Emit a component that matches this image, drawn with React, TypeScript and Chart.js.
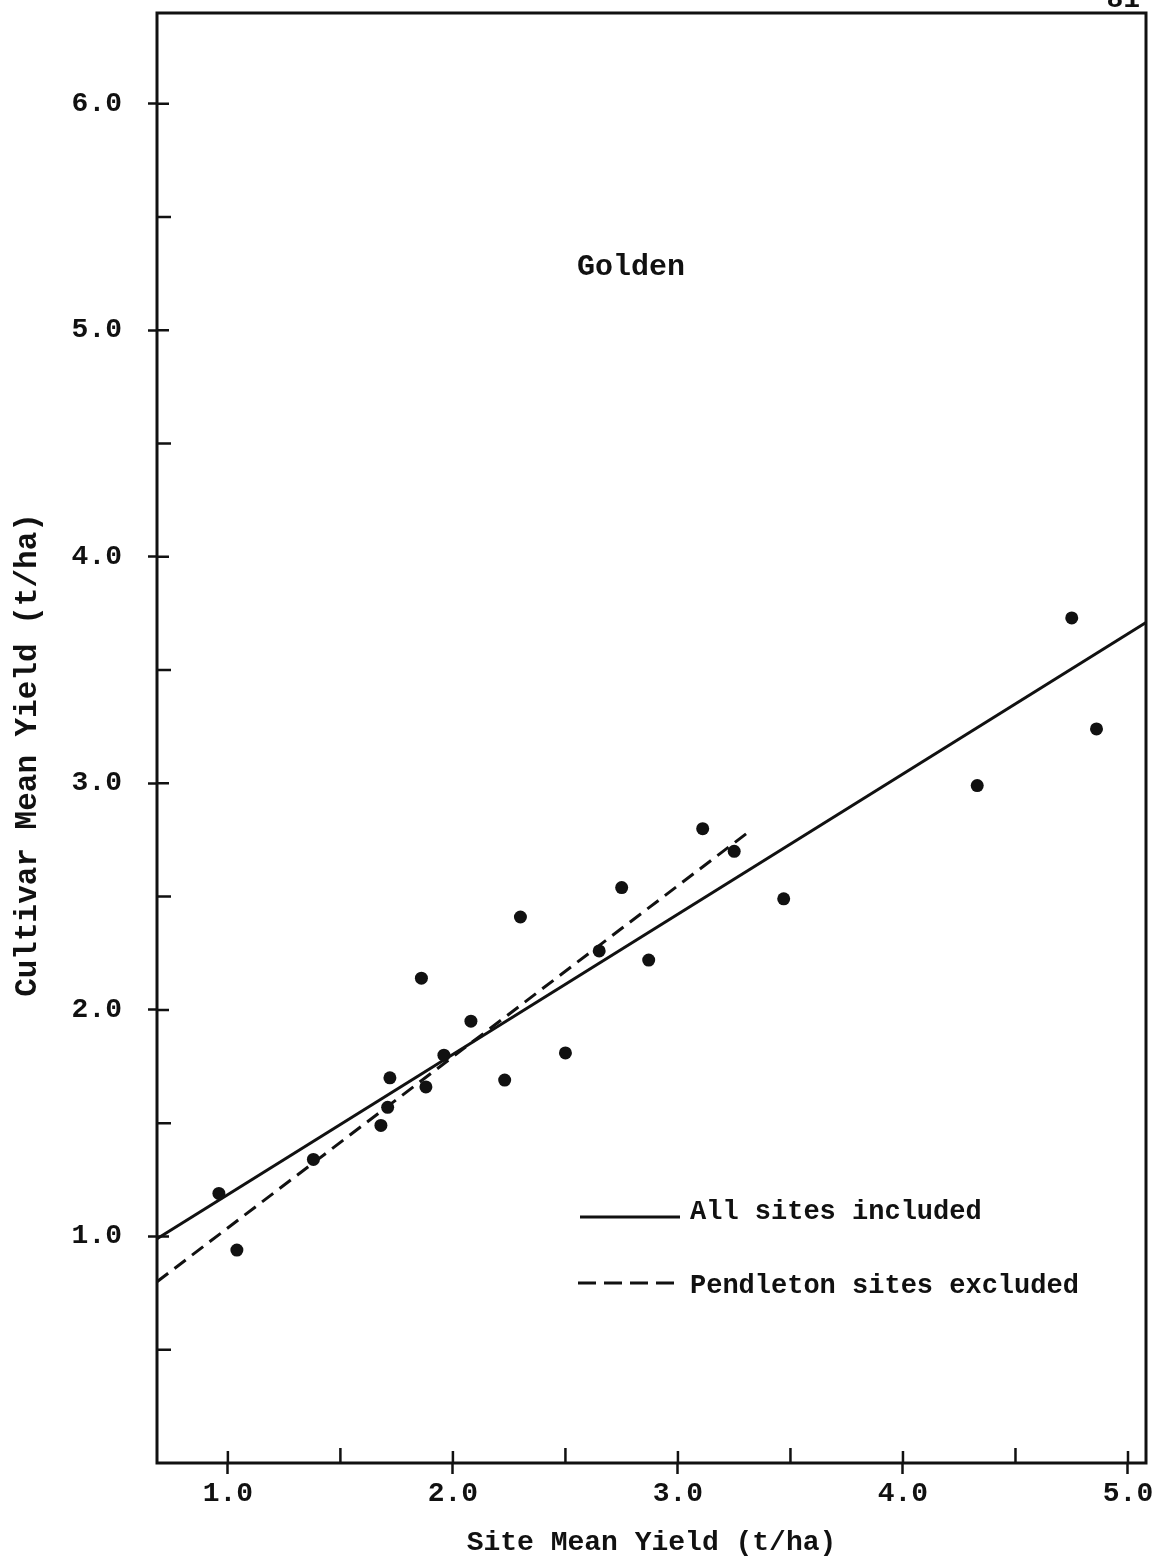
import React, { useEffect, useRef } from "react";
import { Chart, registerables } from "chart.js";

Chart.register(...registerables);

// ---- data ----
const siteMeanYield = [
  0.96, 1.04, 1.38, 1.68, 1.71, 1.72, 1.86, 1.88, 1.96, 2.08, 2.23,
  2.30, 2.50, 2.65, 2.75, 2.87, 3.11, 3.25, 3.47, 4.33, 4.75, 4.86,
];
const cultivarMeanYield = [
  1.19, 0.94, 1.34, 1.49, 1.57, 1.70, 2.14, 1.66, 1.80, 1.95, 1.69,
  2.41, 1.81, 2.26, 2.54, 2.22, 2.80, 2.70, 2.49, 2.99, 3.73, 3.24,
];

// regression lines (endpoints as drawn)
const allSitesX = [0.685, 5.08];
const allSitesY = [0.99, 3.71];
const pendletonX = [0.685, 3.32];
const pendletonY = [0.8, 2.79];

const seriesNames = ["All sites included", "Pendleton sites excluded"];
const panelTitle = "Golden";
const xTitle = "Site Mean Yield (t/ha)";
const yTitle = "Cultivar Mean Yield (t/ha)";
const pageNumber = "81";

const xMin = 0.685;
const xMax = 5.08;
const yMin = 0;
const yMax = 6.4;
const tickStep = 0.5;

const FONT = '"Liberation Mono", "DejaVu Sans Mono", monospace';
const INK = "#111111";

const isMajor = (v: number) => Math.abs(v - Math.round(v)) < 1e-9 && v >= 1;
const fmt = (v: number) => (isMajor(v) ? v.toFixed(1) : "");

const frameAndTicks = {
  id: "frameAndTicks",
  afterDraw(chart: any) {
    const { ctx, chartArea: a, scales } = chart;
    const x = scales.x;
    const y = scales.y;
    ctx.save();
    ctx.strokeStyle = INK;
    ctx.lineWidth = 3;
    ctx.lineCap = "butt";
    ctx.strokeRect(a.left, a.top, a.right - a.left, a.bottom - a.top);
    ctx.lineWidth = 2.5;
    ctx.beginPath();
    x.ticks.forEach((t: any) => {
      const px = x.getPixelForValue(t.value);
      const len = isMajor(t.value) ? 12 : 15;
      ctx.moveTo(px, a.bottom);
      ctx.lineTo(px, a.bottom - len);
    });
    y.ticks.forEach((t: any) => {
      if (t.value <= 0) return;
      const py = y.getPixelForValue(t.value);
      const len = isMajor(t.value) ? 12 : 14;
      ctx.moveTo(a.left, py);
      ctx.lineTo(a.left + len, py);
    });
    ctx.stroke();
    ctx.restore();
  },
};

const annotations = {
  id: "annotations",
  afterDraw(chart: any) {
    const { ctx, chartArea: a } = chart;
    ctx.save();
    ctx.fillStyle = INK;
    ctx.strokeStyle = INK;
    // panel title
    ctx.font = `bold 30px ${FONT}`;
    ctx.textAlign = "center";
    ctx.textBaseline = "middle";
    ctx.fillText(panelTitle, a.left + 474, a.top + 254);
    // y-axis title (rotated)
    ctx.save();
    ctx.font = `bold 31px ${FONT}`;
    ctx.translate(28, (a.top + a.bottom) / 2 + 17);
    ctx.rotate(-Math.PI / 2);
    ctx.textAlign = "center";
    ctx.textBaseline = "middle";
    ctx.fillText(yTitle, 0, 0);
    ctx.restore();
    // legend
    ctx.font = `bold 27px ${FONT}`;
    ctx.textAlign = "left";
    ctx.textBaseline = "alphabetic";
    const lx0 = a.left + 423;
    const lx1 = a.left + 523;
    const tx = a.left + 533;
    const r1 = a.top + 1204;
    const r2 = a.top + 1270;
    ctx.lineWidth = 3;
    ctx.beginPath();
    ctx.moveTo(lx0, r1);
    ctx.lineTo(lx1, r1);
    ctx.stroke();
    ctx.fillText(seriesNames[0], tx, r1 + 2);
    ctx.setLineDash([18, 8]);
    ctx.beginPath();
    ctx.moveTo(lx0 - 2, r2);
    ctx.lineTo(lx1, r2);
    ctx.stroke();
    ctx.setLineDash([]);
    ctx.fillText(seriesNames[1], tx, r2 + 10);
    // page number (cut off at top edge)
    ctx.font = `bold 28px ${FONT}`;
    ctx.textAlign = "right";
    ctx.fillText(pageNumber, a.right - 6, 7);
    ctx.restore();
  },
};

export default function App() {
  const ref = useRef<HTMLCanvasElement | null>(null);

  useEffect(() => {
    if (!ref.current) return;
    const points = siteMeanYield.map((x, i) => ({ x, y: cultivarMeanYield[i] }));
    const allLine = allSitesX.map((x, i) => ({ x, y: allSitesY[i] }));
    const pendLine = pendletonX.map((x, i) => ({ x, y: pendletonY[i] }));

    const chart = new Chart(ref.current, {
      type: "scatter",
      data: {
        datasets: [
          {
            label: "Sites",
            data: points,
            pointRadius: 6.5,
            pointHoverRadius: 6.5,
            backgroundColor: INK,
            borderWidth: 0,
          },
          {
            type: "line",
            label: seriesNames[0],
            data: allLine,
            borderColor: INK,
            borderWidth: 3,
            pointRadius: 0,
            fill: false,
          },
          {
            type: "line",
            label: seriesNames[1],
            data: pendLine,
            borderColor: INK,
            borderWidth: 3,
            borderDash: [14, 8],
            pointRadius: 0,
            fill: false,
          },
        ],
      } as any,
      options: {
        responsive: false,
        animation: false,
        devicePixelRatio: 1,
        layout: { padding: { left: 0, right: 10, top: 13, bottom: 0 } },
        plugins: {
          legend: { display: false },
          tooltip: { enabled: false },
        },
        scales: {
          x: {
            type: "linear",
            min: xMin,
            max: xMax,
            afterFit: (s: any) => {
              s.height = 98;
              s.paddingLeft = 0;
              s.paddingRight = 0;
              s.paddingTop = 0;
              s.paddingBottom = 0;
            },
            border: { display: false },
            grid: {
              drawOnChartArea: false,
              drawTicks: true,
              tickLength: 11,
              tickWidth: 2.5,
              tickColor: (c: any) => (c.tick && isMajor(c.tick.value) ? INK : "rgba(0,0,0,0)"),
            },
            ticks: {
              stepSize: tickStep,
              includeBounds: false,
              autoSkip: false,
              maxRotation: 0,
              padding: 3,
              color: INK,
              font: { family: FONT, size: 28, weight: "bold" },
              callback: (v: any) => fmt(Number(v)),
            },
            title: {
              display: true,
              text: xTitle,
              color: INK,
              font: { family: FONT, size: 28, weight: "bold" },
              padding: { top: 0, bottom: 1 },
            },
          },
          y: {
            type: "linear",
            min: yMin,
            max: yMax,
            afterFit: (s: any) => {
              s.width = 157;
              s.paddingLeft = 0;
              s.paddingRight = 0;
              s.paddingTop = 0;
              s.paddingBottom = 0;
            },
            border: { display: false },
            grid: {
              drawOnChartArea: false,
              drawTicks: true,
              tickLength: 9,
              tickWidth: 2.5,
              tickColor: (c: any) => (c.tick && isMajor(c.tick.value) ? INK : "rgba(0,0,0,0)"),
            },
            ticks: {
              stepSize: tickStep,
              includeBounds: false,
              autoSkip: false,
              padding: 26,
              color: INK,
              font: { family: FONT, size: 28, weight: "bold" },
              callback: (v: any) => fmt(Number(v)),
            },
            title: { display: false, text: yTitle },
          },
        },
      } as any,
      plugins: [frameAndTicks, annotations],
    });
    return () => chart.destroy();
  }, []);

  return (
    <div style={{ position: "absolute", left: 0, top: 0, width: 1156, height: 1561, background: "#fff" }}>
      <canvas ref={ref} width={1156} height={1561} style={{ display: "block" }} />
    </div>
  );
}
